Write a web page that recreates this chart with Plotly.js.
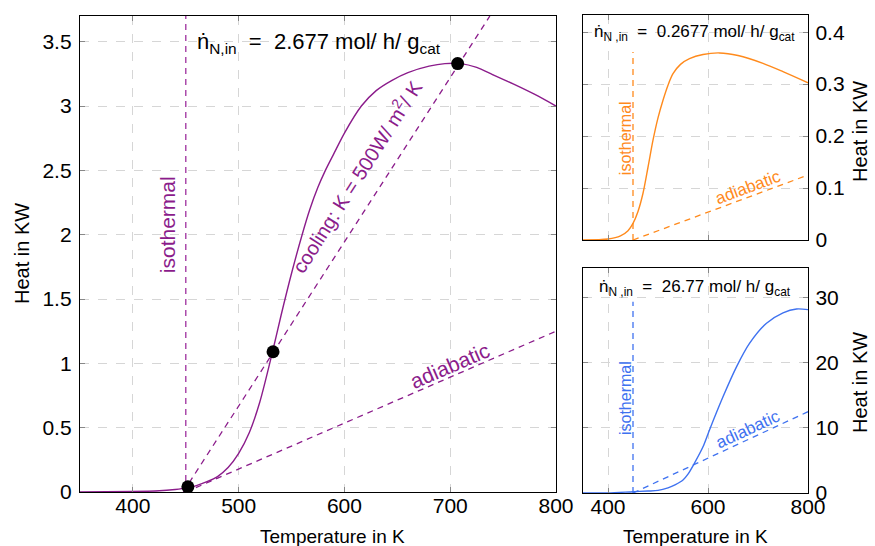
<!DOCTYPE html>
<html>
<head>
<meta charset="utf-8">
<script src="https://cdn.plot.ly/plotly-3.0.1.min.js"></script>
<style>html,body{margin:0;padding:0;background:#fff;}#chart{width:875px;height:546px;}</style>
</head>
<body>
<div id="chart"></div>
<script>
// ---------- data ----------
const mainT = [350, 400, 425, 440, 450, 460, 470, 480, 490, 500, 510, 520, 532, 540, 550, 560, 567, 575, 582, 590, 600, 616, 630, 645, 660, 680, 695, 710, 725, 740, 760, 780, 800];
const mainQ = [0, 0.004, 0.01, 0.02, 0.03, 0.05, 0.08, 0.12, 0.19, 0.30, 0.46, 0.70, 1.09, 1.37, 1.70, 2.00, 2.19, 2.37, 2.50, 2.63, 2.79, 3.00, 3.12, 3.20, 3.26, 3.31, 3.33, 3.33, 3.30, 3.245, 3.17, 3.09, 3.00];

const orangeT = [350, 400, 425, 440, 450, 460, 470, 480, 490, 500, 510, 520, 530, 545, 563, 590, 623, 660, 710, 750, 800];
const orangeQ = [0, 0.002, 0.008, 0.018, 0.032, 0.055, 0.09, 0.14, 0.192, 0.235, 0.269, 0.298, 0.32, 0.338, 0.349, 0.357, 0.360, 0.355, 0.34, 0.324, 0.3025];

const blueT = [350, 400, 450, 480, 500, 520, 535, 550, 560, 573, 590, 603, 630, 657, 683, 717, 750, 777, 800];
const blueQ = [0, 0.01, 0.2, 0.3, 0.4, 0.8, 1.3, 2.0, 2.9, 4.6, 7.1, 9.7, 14.8, 19.4, 23.0, 26.1, 27.7, 28.3, 28.2];

const isoT = [450, 450];
const isoMainQ = [0, 3.7];
const isoOrangeQ = [0, 0.362];
const isoBlueQ = [0, 29.4];

const adiabT = [450, 800];
const adiabMainQ = [0, 1.25];
const adiabOrangeQ = [0, 0.125];
const adiabBlueQ = [0, 12.5];

const coolT = [447.6, 737.5];
const coolQ = [0, 3.7];

const opPointsT = [452, 532.5, 707];
const opPointsQ = [0.04, 1.09, 3.33];

const xTicksMain = [400, 500, 600, 700, 800];
const yTicksMain = [0, 0.5, 1, 1.5, 2, 2.5, 3, 3.5];
const xTicksSmall = [400, 600, 800];
const yTicksOrange = [0, 0.1, 0.2, 0.3, 0.4];
const yTicksBlue = [0, 10, 20, 30];

// ---------- style ----------
const PURPLE = '#8b1c8b';
const PURPLE_D = '#a53ea5';
const ORANGE = '#ff8a1c';
const BLUE = '#3f72f0';
const FONT = 'Liberation Sans, Arial, sans-serif';
const DASH = '6px,5px';
const SP = '\u00a0\u00a0';

const traces = [
  {x: mainT, y: mainQ, xaxis: 'x', yaxis: 'y', mode: 'lines', line: {color: PURPLE, width: 1.4, shape: 'spline', smoothing: 0.8}},
  {x: isoT, y: isoMainQ, xaxis: 'x', yaxis: 'y', mode: 'lines', line: {color: PURPLE_D, width: 1.4, dash: DASH}},
  {x: adiabT, y: adiabMainQ, xaxis: 'x', yaxis: 'y', mode: 'lines', line: {color: PURPLE, width: 1.3, dash: DASH}},
  {x: coolT, y: coolQ, xaxis: 'x', yaxis: 'y', mode: 'lines', line: {color: PURPLE, width: 1.3, dash: DASH}},
  {x: opPointsT, y: opPointsQ, xaxis: 'x', yaxis: 'y', mode: 'markers', marker: {color: '#000', size: 13}},

  {x: orangeT, y: orangeQ, xaxis: 'x2', yaxis: 'y2', mode: 'lines', line: {color: ORANGE, width: 1.4, shape: 'spline', smoothing: 0.8}},
  {x: isoT, y: isoOrangeQ, xaxis: 'x2', yaxis: 'y2', mode: 'lines', line: {color: ORANGE, width: 1.3, dash: DASH}},
  {x: adiabT, y: adiabOrangeQ, xaxis: 'x2', yaxis: 'y2', mode: 'lines', line: {color: ORANGE, width: 1.3, dash: DASH}},

  {x: blueT, y: blueQ, xaxis: 'x3', yaxis: 'y3', mode: 'lines', line: {color: BLUE, width: 1.4, shape: 'spline', smoothing: 0.8}},
  {x: isoT, y: isoBlueQ, xaxis: 'x3', yaxis: 'y3', mode: 'lines', line: {color: BLUE, width: 1.3, dash: DASH}},
  {x: adiabT, y: adiabBlueQ, xaxis: 'x3', yaxis: 'y3', mode: 'lines', line: {color: BLUE, width: 1.3, dash: DASH}}
];

function axisBase(extra) {
  return Object.assign({
    showline: true, linecolor: '#000', linewidth: 1.2, mirror: 'ticks',
    ticks: 'inside', ticklen: 5, tickcolor: '#888', tickwidth: 1,
    showgrid: true, gridcolor: '#d6d6d6', griddash: 'dash', gridwidth: 1,
    zeroline: false, tickfont: {family: FONT, size: 21, color: '#000'},
    tickmode: 'array', fixedrange: true
  }, extra);
}

const W = 875, H = 546;
const px = v => v / W, py = v => (H - v) / H;

const layout = {
  width: W, height: H,
  margin: {l: 0, r: 0, t: 0, b: 0},
  paper_bgcolor: '#fff', plot_bgcolor: '#fff',
  showlegend: false,
  font: {family: FONT, color: '#000'},
  xaxis: axisBase({domain: [px(80), px(556)], range: [350, 800], tickvals: xTicksMain, anchor: 'y', ticklabelstandoff: -5}),
  yaxis: axisBase({domain: [py(492), py(16)], range: [0, 3.7], tickvals: yTicksMain, anchor: 'x', ticklabelstandoff: 3}),
  xaxis2: axisBase({domain: [px(583), px(808)], range: [350, 800], tickvals: xTicksSmall, anchor: 'y2', showticklabels: false}),
  yaxis2: axisBase({domain: [py(240), py(15)], range: [0, 0.433], tickvals: yTicksOrange, anchor: 'x2', side: 'right', ticklabelstandoff: 2}),
  xaxis3: axisBase({domain: [px(583), px(808)], range: [350, 800], tickvals: xTicksSmall, anchor: 'y3', ticklabelstandoff: -5}),
  yaxis3: axisBase({domain: [py(493), py(268)], range: [0, 34.6], tickvals: yTicksBlue, anchor: 'x3', side: 'right', ticklabelstandoff: 2}),
  annotations: [
    // axis titles
    {text: 'Heat in KW', xref: 'paper', yref: 'paper', x: px(22), y: py(254), textangle: -90, showarrow: false, font: {size: 20}, xanchor: 'center', yanchor: 'middle'},
    {text: 'Temperature in K', xref: 'paper', yref: 'paper', x: px(332), y: py(536), showarrow: false, font: {size: 19}, xanchor: 'center', yanchor: 'middle'},
    {text: 'Heat in KW', xref: 'paper', yref: 'paper', x: px(860), y: py(132), textangle: -90, showarrow: false, font: {size: 20}, xanchor: 'center', yanchor: 'middle'},
    {text: 'Heat in KW', xref: 'paper', yref: 'paper', x: px(860), y: py(383), textangle: -90, showarrow: false, font: {size: 20}, xanchor: 'center', yanchor: 'middle'},
    {text: 'Temperature in K', xref: 'paper', yref: 'paper', x: px(695), y: py(536), showarrow: false, font: {size: 19}, xanchor: 'center', yanchor: 'middle'},
    // main annotations
    {text: 'ṅ<sub>N,in</sub>' + SP + '=' + SP + '2.677 mol/ h/ g<sub>cat</sub>', xref: 'x', yref: 'y', x: 458.7, y: 3.49, showarrow: false, font: {size: 22}, xanchor: 'left', yanchor: 'middle'},
    {text: 'isothermal', xref: 'x', yref: 'y', x: 433, y: 2.08, textangle: -90, showarrow: false, font: {size: 21, color: PURPLE}},
    {text: 'cooling: K = 500W/ m<sup>2</sup>/ K', xref: 'x', yref: 'y', x: 611, y: 2.46, textangle: -57.5, showarrow: false, font: {size: 20, color: PURPLE}},
    {text: 'adiabatic', xref: 'x', yref: 'y', x: 700, y: 0.98, textangle: -23.5, showarrow: false, font: {size: 21, color: PURPLE}},
    // orange panel
    {text: 'ṅ<sub>N ,in</sub>' + SP + '=' + SP + '0.2677 mol/ h/ g<sub>cat</sub>', xref: 'x2', yref: 'y2', x: 368, y: 0.398, showarrow: false, font: {size: 17}, xanchor: 'left', yanchor: 'middle'},
    {text: 'isothermal', xref: 'x2', yref: 'y2', x: 434, y: 0.196, textangle: -90, showarrow: false, font: {size: 16, color: ORANGE}},
    {text: 'adiabatic', xref: 'x2', yref: 'y2', x: 680, y: 0.101, textangle: -20.4, showarrow: false, font: {size: 17, color: ORANGE}},
    // blue panel
    {text: 'ṅ<sub>N ,in</sub>' + SP + '=' + SP + '26.77 mol/ h/ g<sub>cat</sub>', xref: 'x3', yref: 'y3', x: 378, y: 31.5, showarrow: false, font: {size: 17}, xanchor: 'left', yanchor: 'middle'},
    {text: 'isothermal', xref: 'x3', yref: 'y3', x: 434, y: 14.6, textangle: -90, showarrow: false, font: {size: 16, color: BLUE}},
    {text: 'adiabatic', xref: 'x3', yref: 'y3', x: 680, y: 9.7, textangle: -24.9, showarrow: false, font: {size: 17, color: BLUE}}
  ]
};

Plotly.newPlot('chart', traces, layout, {displayModeBar: false, staticPlot: true});
</script>
</body>
</html>
